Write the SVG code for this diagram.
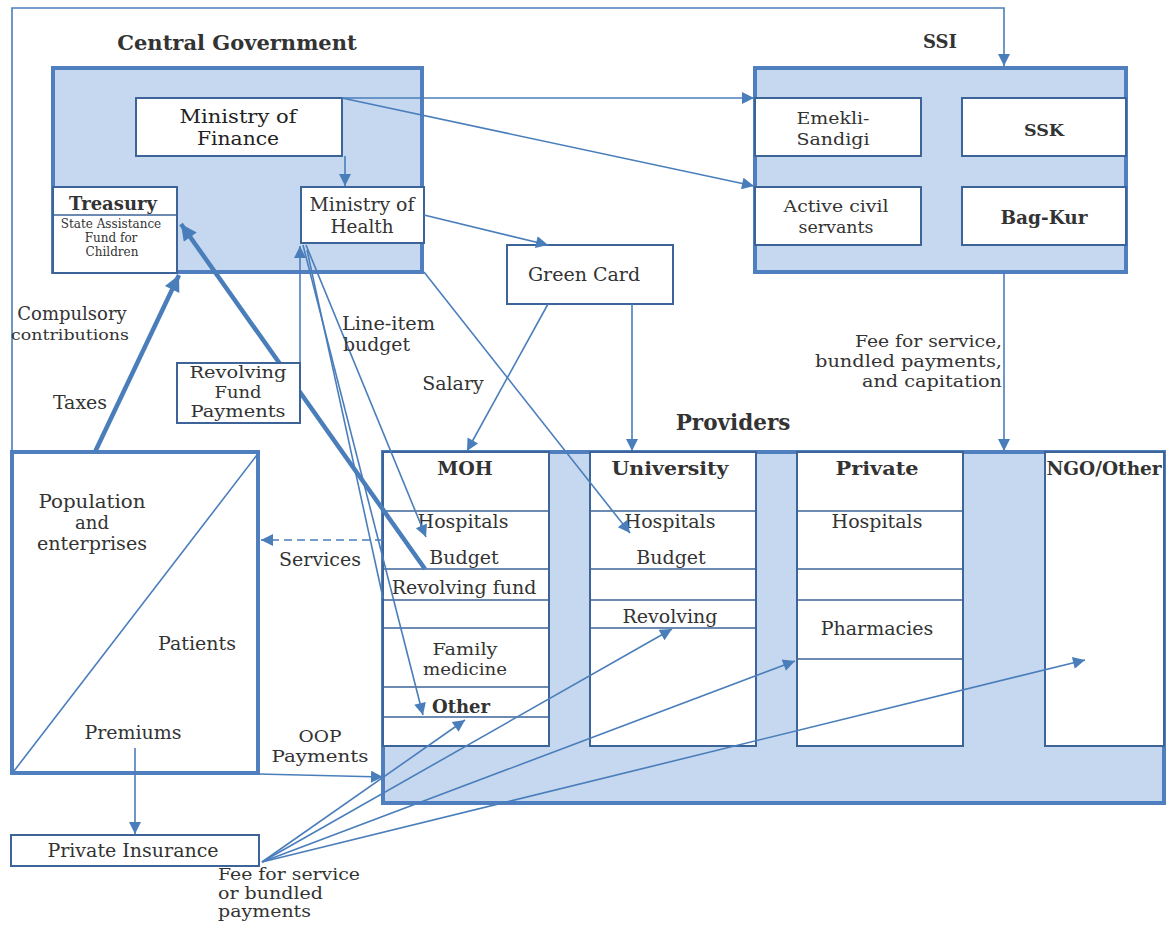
<svg xmlns="http://www.w3.org/2000/svg" width="1166" height="925" viewBox="0 0 1166 925" font-size="19" fill="#333">
<defs>
<style>
.bg{fill:#c6d8ef;stroke:#4f7fbf;stroke-width:4}
.wb{fill:#fff;stroke:#3d6499;stroke-width:2}
.pb{fill:#fff;stroke:#4f7fbf;stroke-width:4}
.rl{fill:none;stroke:#3d6499;stroke-width:1.6}
.ln{fill:none;stroke:#4a7ebb;stroke-width:1.6}
.tk{fill:none;stroke:#4a7ebb;stroke-width:4.5}
.ds{fill:none;stroke:#4a7ebb;stroke-width:1.6;stroke-dasharray:8 5}
text{font-family:"DejaVu Serif","Liberation Serif",serif}
.c{text-anchor:middle}
.e{text-anchor:end}
.b{font-weight:bold}
</style>
<marker id="ah" viewBox="0 0 10 10" refX="10" refY="5" markerWidth="16" markerHeight="12" markerUnits="userSpaceOnUse" orient="auto"><path d="M0,0 L10,5 L0,10 z" fill="#4a7ebb"/></marker>
<marker id="ahL" viewBox="0 0 10 10" refX="10" refY="5" markerWidth="20" markerHeight="16" markerUnits="userSpaceOnUse" orient="auto"><path d="M0,0 L10,5 L0,10 z" fill="#4a7ebb"/></marker>
</defs>
<rect width="1166" height="925" fill="#fff"/>

<!-- Containers -->
<g id="central-government">
<rect class="bg" x="53" y="68" width="369" height="204"/>
<text x="237" y="50" class="c b" font-size="21">Central Government</text>
</g>
<g id="ssi">
<rect class="bg" x="755" y="68" width="371" height="204"/>
<text x="940" y="48" class="c b" font-size="18">SSI</text>
</g>
<g id="providers">
<rect class="bg" x="383" y="452" width="781" height="351"/>
<text x="733" y="430" class="c b" font-size="21.5">Providers</text>
</g>

<!-- Central government nodes -->
<g id="ministry-of-finance">
<rect class="wb" x="136" y="98" width="206" height="58"/>
<text x="238" y="123" class="c" font-size="18.5" fill="#222" textLength="117" lengthAdjust="spacingAndGlyphs">Ministry of</text>
<text x="238" y="145" class="c" font-size="18.5" fill="#222" textLength="82" lengthAdjust="spacingAndGlyphs">Finance</text>
</g>
<g id="treasury">
<rect class="wb" x="53" y="187" width="124" height="86"/>
<line class="rl" x1="53" y1="215" x2="177" y2="215"/>
<text x="113" y="210" class="c b" font-size="18">Treasury</text>
<text x="111" y="228" class="c" font-size="12">State Assistance</text>
<text x="111" y="242" class="c" font-size="12">Fund for</text>
<text x="112" y="256" class="c" font-size="12">Children</text>
</g>
<g id="ministry-of-health">
<rect class="wb" x="301" y="187" width="123" height="56"/>
<text x="362" y="211" class="c" font-size="18" textLength="105" lengthAdjust="spacingAndGlyphs">Ministry of</text>
<text x="362" y="233" class="c" font-size="18" textLength="63" lengthAdjust="spacingAndGlyphs">Health</text>
</g>

<!-- SSI nodes -->
<g id="emekli-sandigi">
<rect class="wb" x="755" y="98" width="166" height="58"/>
<text x="833" y="124" class="c" font-size="17.5" textLength="73" lengthAdjust="spacingAndGlyphs">Emekli-</text>
<text x="833" y="145" class="c" font-size="17.5" textLength="73" lengthAdjust="spacingAndGlyphs">Sandigi</text>
</g>
<g id="ssk">
<rect class="wb" x="962" y="98" width="164" height="58"/>
<text x="1044" y="136" class="c b" font-size="17.5">SSK</text>
</g>
<g id="active-civil-servants">
<rect class="wb" x="755" y="187" width="166" height="58"/>
<text x="836" y="212" class="c" font-size="17.5" textLength="105" lengthAdjust="spacingAndGlyphs">Active civil</text>
<text x="836" y="233" class="c" font-size="17.5" textLength="75" lengthAdjust="spacingAndGlyphs">servants</text>
</g>
<g id="bag-kur">
<rect class="wb" x="962" y="187" width="164" height="58"/>
<text x="1044" y="224" class="c b" font-size="18.5">Bag-Kur</text>
</g>

<!-- Green Card -->
<g id="green-card">
<rect class="wb" x="507" y="245" width="166" height="59"/>
<text x="584" y="281" class="c">Green Card</text>
</g>

<!-- Population -->
<g id="population">
<rect class="pb" x="12" y="452" width="246" height="321"/>
<line class="ln" x1="14" y1="771" x2="257" y2="455"/>
<text x="92" y="508" class="c" font-size="18" textLength="107" lengthAdjust="spacingAndGlyphs">Population</text>
<text x="92" y="529" class="c" font-size="18">and</text>
<text x="92" y="550" class="c" font-size="18" textLength="110" lengthAdjust="spacingAndGlyphs">enterprises</text>
<text x="197" y="650" class="c">Patients</text>
<text x="133" y="739" class="c">Premiums</text>
</g>

<g id="private-insurance">
<rect class="wb" x="11" y="835" width="248" height="31"/>
<text x="133" y="857" class="c">Private Insurance</text>
</g>

<!-- Provider columns -->
<g id="moh">
<rect class="wb" x="383" y="452" width="166" height="294"/>
<path class="rl" d="M383 511H549M383 569H549M383 600H549M383 628H549M383 687H549M383 717H549"/>
<text x="465" y="475" class="c b">MOH</text>
<text x="463" y="528" class="c">Hospitals</text>
<text x="464" y="564" class="c">Budget</text>
<text x="464" y="594" class="c">Revolving fund</text>
<text x="465" y="655" class="c" font-size="17" textLength="65" lengthAdjust="spacingAndGlyphs">Family</text>
<text x="465" y="675" class="c" font-size="17" textLength="84" lengthAdjust="spacingAndGlyphs">medicine</text>
<text x="461" y="713" class="c b" font-size="18">Other</text>
</g>
<g id="university">
<rect class="wb" x="590" y="452" width="166" height="294"/>
<path class="rl" d="M590 511H756M590 569H756M590 600H756M590 628H756"/>
<text x="670" y="475" class="c b" textLength="117" lengthAdjust="spacingAndGlyphs">University</text>
<text x="670" y="528" class="c">Hospitals</text>
<text x="671" y="564" class="c">Budget</text>
<text x="670" y="623" class="c">Revolving</text>
</g>
<g id="private">
<rect class="wb" x="797" y="452" width="166" height="294"/>
<path class="rl" d="M797 511H963M797 569H963M797 600H963M797 659H963"/>
<text x="877" y="475" class="c b" textLength="83" lengthAdjust="spacingAndGlyphs">Private</text>
<text x="877" y="528" class="c">Hospitals</text>
<text x="877" y="635" class="c">Pharmacies</text>
</g>
<g id="ngo-other">
<rect class="wb" x="1045" y="452" width="119" height="294"/>
<text x="1104" y="475" class="c b" font-size="18.5">NGO/Other</text>
</g>

<!-- Connectors -->
<g id="connectors">
<polyline class="ln" points="12,452 12,8 1004,8 1004,66" marker-end="url(#ah)"/>
<line class="ln" x1="345" y1="156" x2="345" y2="186" marker-end="url(#ah)"/>
<line class="ln" x1="342" y1="98" x2="754" y2="98" marker-end="url(#ah)"/>
<line class="ln" x1="342" y1="98" x2="754" y2="186" marker-end="url(#ah)"/>
<line class="ln" x1="424" y1="215" x2="548" y2="245" marker-end="url(#ah)"/>
<line class="ln" x1="548" y1="304" x2="467" y2="451" marker-end="url(#ah)"/>
<line class="ln" x1="632" y1="304" x2="632" y2="451" marker-end="url(#ah)"/>
<line class="ln" x1="424" y1="272" x2="630" y2="533" marker-end="url(#ah)"/>
<line class="ln" x1="306" y1="245" x2="426" y2="537" marker-end="url(#ah)"/>
<line class="ln" x1="303" y1="245" x2="423" y2="715" marker-end="url(#ah)"/>
<line class="ln" x1="383" y1="598" x2="307" y2="250"/>
<line class="ln" x1="300" y1="363" x2="300" y2="246" marker-end="url(#ah)"/>
<line class="tk" x1="425" y1="569" x2="181" y2="224" marker-end="url(#ahL)"/>
<line class="tk" x1="95" y1="452" x2="179" y2="275" marker-end="url(#ahL)"/>
<line class="ds" x1="383" y1="540" x2="261" y2="540" marker-end="url(#ah)"/>
<line class="ln" x1="135" y1="748" x2="135" y2="834" marker-end="url(#ah)"/>
<line class="ln" x1="258" y1="774" x2="383" y2="777" marker-end="url(#ah)"/>
<line class="ln" x1="1004" y1="272" x2="1004" y2="451" marker-end="url(#ah)"/>
<line class="ln" x1="262" y1="862" x2="465" y2="720" marker-end="url(#ah)"/>
<line class="ln" x1="262" y1="862" x2="672" y2="629" marker-end="url(#ah)"/>
<line class="ln" x1="262" y1="862" x2="795" y2="661" marker-end="url(#ah)"/>
<line class="ln" x1="262" y1="862" x2="1085" y2="660" marker-end="url(#ah)"/>
</g>

<!-- Revolving Fund Payments label box (on the connector) -->
<g id="revolving-fund-payments">
<rect class="wb" x="177" y="363" width="123" height="60"/>
<text x="238" y="378" class="c" font-size="16.5" textLength="97" lengthAdjust="spacingAndGlyphs">Revolving</text>
<text x="238" y="397.5" class="c" font-size="16.5" textLength="47" lengthAdjust="spacingAndGlyphs">Fund</text>
<text x="238" y="417" class="c" font-size="16.5" textLength="95" lengthAdjust="spacingAndGlyphs">Payments</text>
</g>

<!-- Connector labels -->
<g id="labels">
<text x="72" y="320" class="c" font-size="18">Compulsory</text>
<text x="70" y="340" class="c" font-size="15.5" textLength="118" lengthAdjust="spacingAndGlyphs">contributions</text>
<text x="80" y="409" class="c">Taxes</text>
<text x="342" y="330" font-size="18" textLength="93" lengthAdjust="spacingAndGlyphs">Line-item</text>
<text x="343" y="351" font-size="18" textLength="67" lengthAdjust="spacingAndGlyphs">budget</text>
<text x="453" y="390" class="c">Salary</text>
<text x="1002" y="347" class="e" font-size="17" textLength="147" lengthAdjust="spacingAndGlyphs">Fee for service,</text>
<text x="1002" y="367" class="e" font-size="17" textLength="187" lengthAdjust="spacingAndGlyphs">bundled payments,</text>
<text x="1002" y="387" class="e" font-size="17" textLength="140" lengthAdjust="spacingAndGlyphs">and capitation</text>
<text x="320" y="566" class="c">Services</text>
<text x="320" y="742" class="c" font-size="17" textLength="43" lengthAdjust="spacingAndGlyphs">OOP</text>
<text x="320" y="762" class="c" font-size="17" textLength="97" lengthAdjust="spacingAndGlyphs">Payments</text>
<text x="218" y="880" font-size="15.8" textLength="142" lengthAdjust="spacingAndGlyphs">Fee for service</text>
<text x="218" y="898.5" font-size="15.8" textLength="105" lengthAdjust="spacingAndGlyphs">or bundled</text>
<text x="218" y="917" font-size="15.8" textLength="93" lengthAdjust="spacingAndGlyphs">payments</text>
</g>
</svg>
